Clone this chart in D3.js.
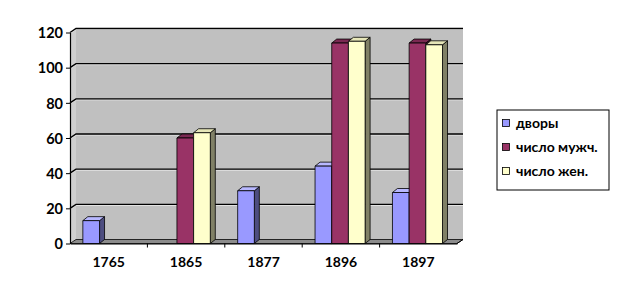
<!DOCTYPE html>
<html>
<head>
<meta charset="utf-8">
<script src="https://cdn.jsdelivr.net/npm/d3@7/dist/d3.min.js"></script>
<style>
  body { margin: 0; background: #fff; }
  text { font-family: Lato, "Open Sans", sans-serif; font-weight: bold; fill: #000; }
</style>
</head>
<body>
<svg id="chart" width="620" height="293"></svg>
<script>
// data
var years = ["1765", "1865", "1877", "1896", "1897"];
var seriesNames = ["дворы", "число мужч.", "число жен."];
var dvory = [13, null, 30, 44, 29];
var muzh = [null, 60, null, 114, 114];
var zhen = [null, 63, null, 115, 113];
var yTicks = [0, 20, 40, 60, 80, 100, 120];

var values = [dvory, muzh, zhen];
var front = ["#9999ff", "#993366", "#ffffcc"];
var side = ["#4d4d80", "#4d1a33", "#808066"];
var top_ = ["#b8b8ff", "#7a2952", "#e6e6b8"];

var svg = d3.select("#chart");

// depth of the 3d box and the bars
var wdx = 6, wdy = -4;
var bdx = 5, bdy = -4;

var x = d3.scaleBand().domain(years).range([70, 457]);
var xs = d3.scaleBand().domain(seriesNames).range([0, x.bandwidth()])
    .paddingInner(0).paddingOuter(0.82).align(0.47);
var y = d3.scaleLinear().domain([0, 120]).range([243.5, 32.5]);

var x0 = x.range()[0], x1 = x.range()[1];
var yb = y(0), yt = y(120);

// back wall
svg.append("rect")
    .attr("x", x0 + wdx).attr("y", yt + wdy)
    .attr("width", x1 - x0).attr("height", yb - yt)
    .attr("fill", "#c0c0c0");
// left side wall
svg.append("path")
    .attr("d", "M" + x0 + "," + yt + "L" + (x0 + wdx) + "," + (yt + wdy) +
        "L" + (x0 + wdx) + "," + (yb + wdy) + "L" + x0 + "," + yb + "Z")
    .attr("fill", "#cfcfcf");

// gridlines on walls
var grid = svg.append("g");
yTicks.slice(1).forEach(function (t) {
    grid.append("path")
        .attr("d", "M" + x0 + "," + (y(t) + 1) + "L" + (x0 + wdx) + "," + (y(t) + wdy + 1) + "L" + (x1 + wdx) + "," + (y(t) + wdy + 1))
        .attr("fill", "none").attr("stroke", "#e8e8e8").attr("stroke-width", 1);
    grid.append("path")
        .attr("d", "M" + x0 + "," + y(t) + "L" + (x0 + wdx) + "," + (y(t) + wdy) + "L" + (x1 + wdx) + "," + (y(t) + wdy))
        .attr("fill", "none").attr("stroke", "#000").attr("stroke-width", 1.4);
});

// floor
svg.append("path")
    .attr("d", "M" + x0 + "," + yb + "L" + (x0 + wdx) + "," + (yb + wdy) + "L" + (x1 + wdx) + "," + (yb + wdy) + "L" + x1 + "," + yb + "Z")
    .attr("fill", "#8c8c8c").attr("stroke", "#000").attr("stroke-width", 0.8);

// bars
var bars = svg.append("g");
years.forEach(function (yr, i) {
    values.forEach(function (arr, s) {
        var v = arr[i];
        if (v == null) return;
        var bx = x(yr) + xs(seriesNames[s]);
        var bw = xs.bandwidth();
        var by = y(v);
        var g = bars.append("g").attr("stroke", "#000").attr("stroke-width", 0.8).attr("stroke-linejoin", "round");
        g.append("path")
            .attr("d", "M" + (bx + bw) + "," + by + "L" + (bx + bw + bdx) + "," + (by + bdy) +
                "L" + (bx + bw + bdx) + "," + (yb + bdy) + "L" + (bx + bw) + "," + yb + "Z")
            .attr("fill", side[s]);
        g.append("path")
            .attr("d", "M" + bx + "," + by + "L" + (bx + bdx) + "," + (by + bdy) +
                "L" + (bx + bw + bdx) + "," + (by + bdy) + "L" + (bx + bw) + "," + by + "Z")
            .attr("fill", top_[s]);
        g.append("rect")
            .attr("x", bx).attr("y", by).attr("width", bw).attr("height", yb - by)
            .attr("fill", front[s]);
    });
});

// y axis
var yAxis = svg.append("g").attr("transform", "translate(" + x0 + ",0)")
    .call(d3.axisLeft(y).tickValues(yTicks).tickSize(4).tickSizeOuter(0).tickPadding(3));
yAxis.select(".domain").attr("stroke", "#000").attr("stroke-width", 1.2);
yAxis.selectAll("line").attr("stroke", "#000");
yAxis.selectAll("text").style("font-size", "14.5px").attr("dy", "0.36em");

// x axis
var xAxis = svg.append("g").attr("transform", "translate(0," + yb + ")")
    .call(d3.axisBottom(x).tickSize(0).tickPadding(14));
xAxis.select(".domain").attr("stroke", "#000").attr("stroke-width", 1.2);
xAxis.selectAll("text").style("font-size", "14px");
xAxis.selectAll(".sep").data(years.slice(1)).enter().append("line")
    .attr("x1", function (d) { return x(d); }).attr("x2", function (d) { return x(d); })
    .attr("y1", 0).attr("y2", 4).attr("stroke", "#000");
xAxis.append("line").attr("x1", x1).attr("x2", x1 + wdx).attr("y1", 0).attr("y2", wdy).attr("stroke", "#000");

// legend
var leg = svg.append("g").attr("transform", "translate(497,110)");
leg.append("rect").attr("width", 112).attr("height", 80)
    .attr("fill", "#fff").attr("stroke", "#000").attr("stroke-width", 1);
seriesNames.forEach(function (n, s) {
    var cy = 13 + s * 24;
    leg.append("rect").attr("x", 5.5).attr("y", cy - 3.5).attr("width", 7).attr("height", 7)
        .attr("fill", front[s]).attr("stroke", "#000").attr("stroke-width", 0.8);
    leg.append("text").attr("x", 19).attr("y", cy).attr("dy", "0.35em")
        .style("font-size", "14px").text(n);
});
</script>
</body>
</html>
